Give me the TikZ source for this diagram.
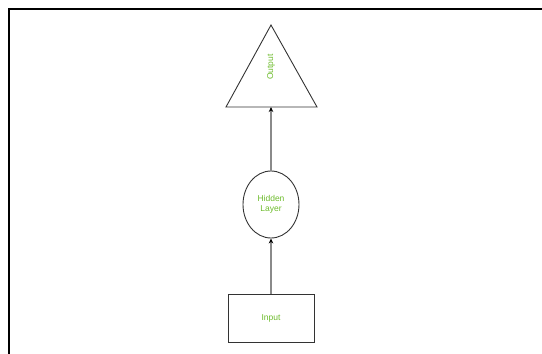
\documentclass[tikz,border=0pt]{standalone}
\usepackage{fontspec}
\setmainfont{Liberation Sans}
\usetikzlibrary{arrows.meta,shapes.geometric}
\definecolor{labelgreen}{HTML}{6DBB2C}
\definecolor{edgegrey}{HTML}{333333}
\definecolor{linkgrey}{HTML}{8A8A8A}
\tikzset{
  shapeborder/.style={draw=edgegrey, line width=0.9pt},
  lbl/.style={text=labelgreen, font=\fontsize{8.5}{10}\selectfont, align=center, inner sep=0pt},
  link/.style={draw=linkgrey, line width=1.1pt,
    -{Stealth[length=5pt,width=4.5pt,color=black]}},
}
\begin{document}
\begin{tikzpicture}[x=1pt,y=-1pt]
  \useasboundingbox (0,0) rectangle (542,354);
  % outer frame (top and left edges)
  \draw[line width=2pt, black] (9,356) -- (9,9) -- (544,9);

  % output triangle
  \draw[shapeborder] (271,25) -- (317,107) -- (226,107) -- cycle;
  \coordinate (outbase) at (271,107);
  \node[lbl, rotate=90] (outlabel) at (271,67) {Output};

  % hidden layer
  \node[shapeborder, ellipse, minimum width=56pt, minimum height=67pt,
        inner sep=0pt, lbl, text=labelgreen] (hidden) at (271,204.5) {Hidden\\Layer};

  % input box
  \node[shapeborder, rectangle, minimum width=86pt, minimum height=48pt,
        inner sep=0pt, lbl, text=labelgreen] (input) at (271,318) {Input};

  % connectors
  \draw[link] (input.north) -- (hidden.south);
  \draw[link] (hidden.north) -- (outbase);
\end{tikzpicture}
\end{document}
